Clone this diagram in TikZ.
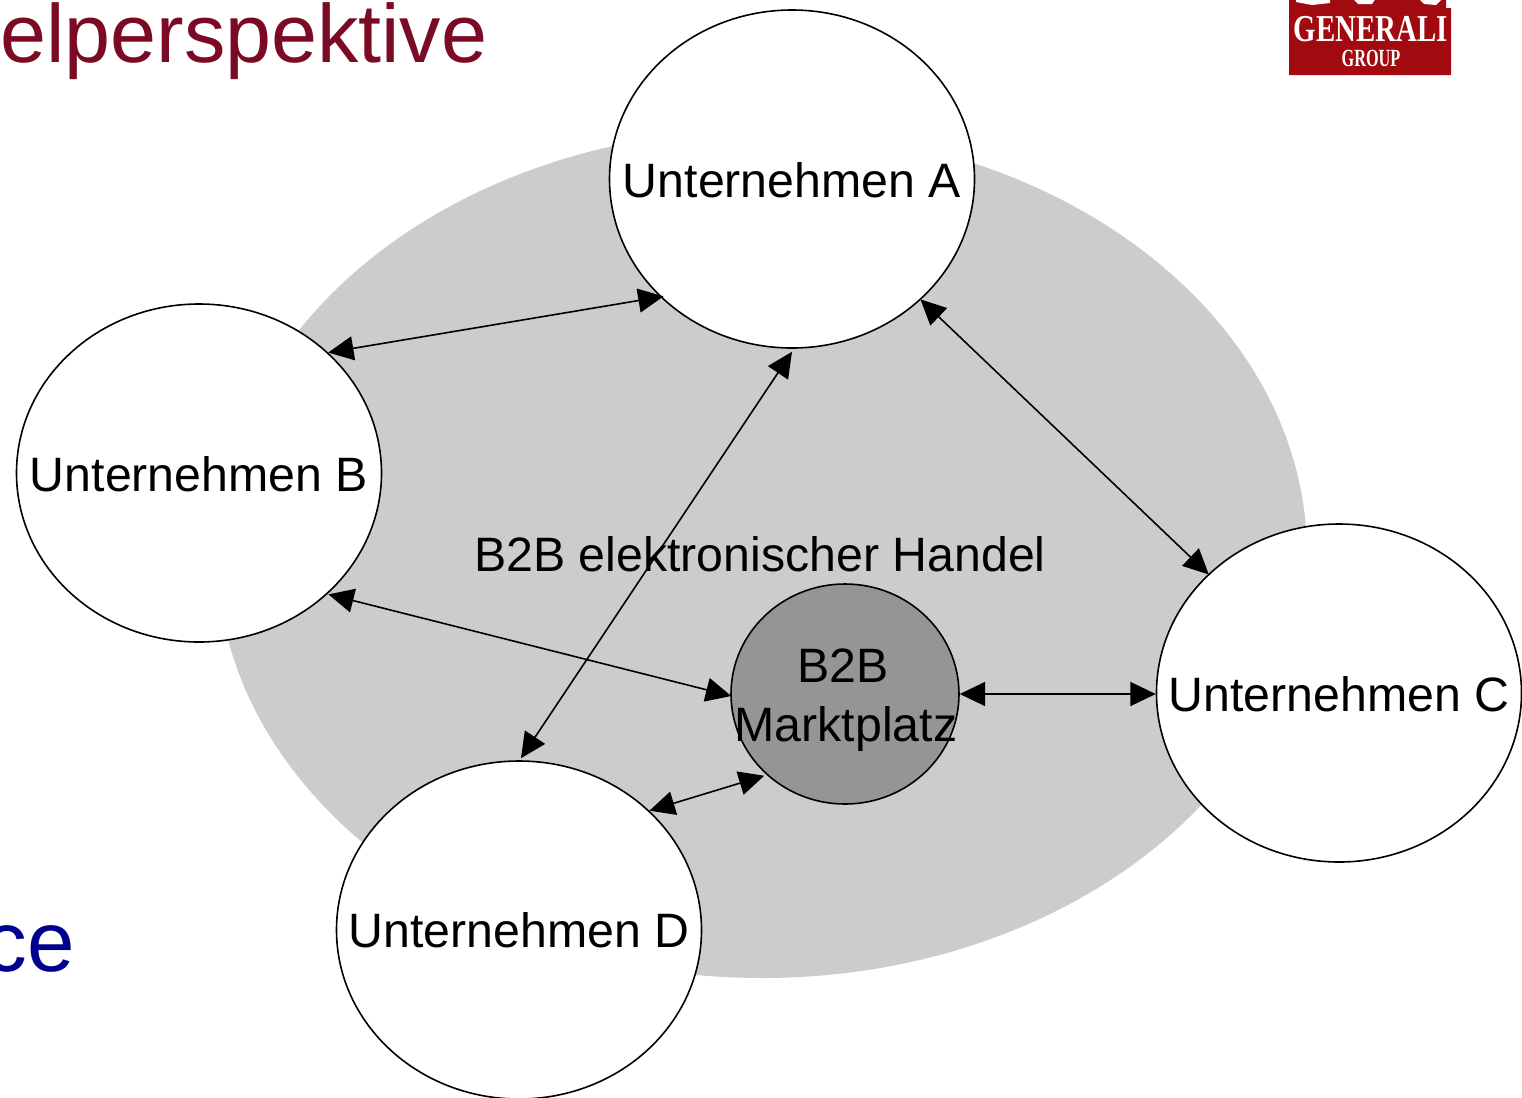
\documentclass[tikz,border=0pt]{standalone}
\usepackage{fontspec}
\setmainfont{Liberation Sans}
\newfontfamily\logofont{Liberation Serif}
\usetikzlibrary{shapes.geometric,arrows.meta}
\definecolor{titlered}{HTML}{7B0A24}
\definecolor{titleblue}{HTML}{000090}
\definecolor{logored}{HTML}{A30A0F}
\definecolor{zonegray}{HTML}{CCCCCC}
\definecolor{marketgray}{HTML}{959595}
\tikzset{
  x=0.75pt,y=-0.75pt,
  firm/.style={ellipse,draw=black,fill=white,line width=1.2pt,inner sep=0pt,minimum width=273.75pt,minimum height=253.5pt},
  market/.style={ellipse,draw=black,fill=marketgray,line width=1.2pt,inner sep=0pt,minimum width=171pt,minimum height=165pt},
  zone/.style={ellipse,fill=zonegray,draw=none,inner sep=0pt,minimum width=817.5pt,minimum height=636pt},
  lbl/.style={inner sep=0pt,font=\fontsize{36.2pt}{43.5pt}\selectfont,align=center,text=black},
  link/.style={line width=1.2pt,{Stealth[length=19pt,width=18pt,inset=0pt]}-{Stealth[length=19pt,width=18pt,inset=0pt]}},
  heading/.style={inner sep=0pt,anchor=base west,font=\fontsize{62pt}{70pt}\selectfont}
}
\begin{document}
\begin{tikzpicture}
\useasboundingbox (0,0) rectangle (1522,1097);
\clip (0,0) rectangle (1522,1097);
\fill[white] (0,0) rectangle (1522,1097);
\node[heading,text=titlered] (title) at (0,62) {elperspektive};
\node[heading,text=titleblue,anchor=base east,font=\fontsize{64pt}{70pt}\selectfont] (ce) at (75,971) {ce};
% logo
\fill[logored] (1289,-2) -- (1446,-2) -- (1446,8) -- (1451,8) -- (1451,75) -- (1289,75) -- cycle;
\fill[white] (1296,-2) -- (1330,-2) -- (1330,3) -- (1312,5) -- (1296,2) -- cycle;
\fill[white] (1352,-2) -- (1376,-2) -- (1372,4) -- (1358,4) -- cycle;
\fill[white] (1418,-2) -- (1443,-2) -- (1436,5) -- (1424,4) -- cycle;
\node[inner sep=0pt,text=white,xscale=0.76] (gen) at (1371,29) {\logofont\bfseries\fontsize{28.5pt}{30pt}\selectfont GENERALI};
\node[inner sep=0pt,text=white,xscale=0.66] (grp) at (1371,58) {\logofont\bfseries\fontsize{18.5pt}{20pt}\selectfont GROUP};
% zone
\node[zone] (z) at (762,554) {};
\node[firm] (A) at (792,179) {};
\node[firm] (B) at (199,473) {};
\node[firm] (C) at (1339,693) {};
\node[firm] (D) at (519,930) {};
\node[market] (M) at (845,694) {};
\draw[link] (B.43) -- ([shift={(3,-1)}]A.222.7);
\draw[link] ([shift={(-3,2)}]A.-42.7) -- ([shift={(-1,2)}]C.137.7);
\draw[link] ([shift={(0,3)}]A.270) -- ([shift={(-1,-2)}]D.89.5);
\draw[link] ([shift={(-2,3)}]B.-42) -- ([shift={(1,0)}]M.181.5);
\draw[link] (M.0) -- (M.0 -| C.180);
\draw[link] ([shift={(-1,-1)}]D.42) -- ([shift={(-1,2)}]M.225);
\node[lbl] (la) at (792,180) {Unternehmen A};
\node[lbl] (lb) at (199,474) {Unternehmen B};
\node[lbl] (lc) at (1339,694) {Unternehmen C};
\node[lbl] (ld) at (519,930) {Unternehmen D};
\node[lbl] (lz) at (760,554) {B2B elektronischer Handel};
\node[lbl] (lm1) at (843,666) {B2B};
\node[lbl] (lm2) at (846,729) {Marktplatz};
\end{tikzpicture}
\end{document}
